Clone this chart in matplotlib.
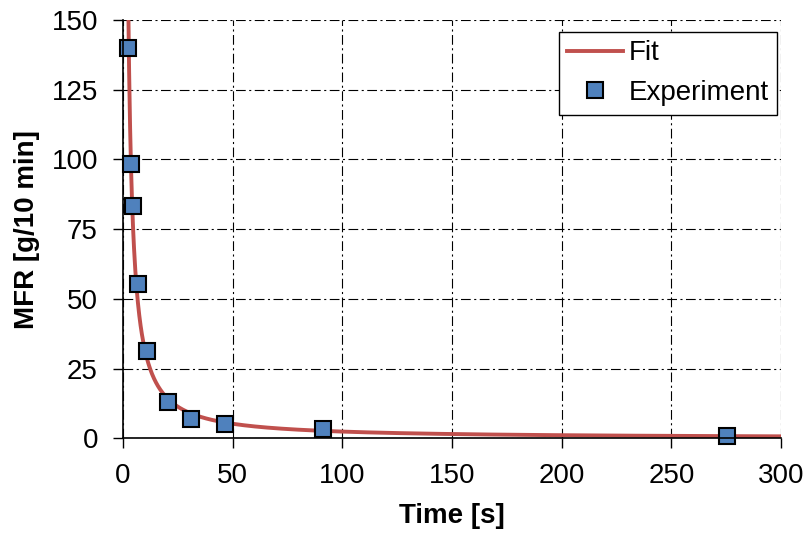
import numpy as np
import matplotlib
matplotlib.use("Agg")
import matplotlib.pyplot as plt

time_s = [2.5, 3.5, 4.6, 7.0, 10.9, 20.4, 30.9, 46.7, 91.2, 275.6]
mfr = [140.1, 98.3, 83.4, 55.3, 31.2, 13.1, 6.9, 5.0, 3.2, 0.8]

x_ticks = [0, 50, 100, 150, 200, 250, 300]
y_ticks = [0, 25, 50, 75, 100, 125, 150]

# Power-law fit of the experimental data (log-log least squares)
b, ln_a = np.polyfit(np.log(time_s), np.log(mfr), 1)
t_fit = np.linspace(1.0, 300, 2000)
mfr_fit = np.exp(ln_a) * t_fit ** b

plt.rcParams['font.family'] = ['Liberation Sans', 'DejaVu Sans']
plt.rcParams['lines.scale_dashes'] = False

fig = plt.figure(figsize=(8.08, 5.33), dpi=100)
ax = fig.add_axes([0.1522, 0.1777, 0.8144, 0.7848])

ax.plot(t_fit, mfr_fit, color='#C0504D', lw=2.8, label='Fit', zorder=3)
ax.plot(time_s, mfr, 's', ms=11.5, mfc='#4F81BD', mec='black', mew=1.5,
        label='Experiment', zorder=4, clip_on=False)

ax.set_xlim(0, 300)
ax.set_ylim(0, 150)
ax.set_xticks(x_ticks)
ax.set_yticks(y_ticks)
ax.tick_params(axis='both', direction='out', length=7, width=1,
               labelsize=20, colors='black')
ax.tick_params(axis='y', pad=11)
ax.tick_params(axis='x', pad=11)
ax.grid(True, color='black', lw=0.8, linestyle=(0, (7, 2.5, 1.5, 2.5)))
ax.set_axisbelow(True)
for s in ['top', 'right']:
    ax.spines[s].set_visible(False)
for s in ['left', 'bottom']:
    ax.spines[s].set_linewidth(1.2)
    ax.spines[s].set_zorder(5)

ax.set_xlabel('Time [s]', fontsize=20, fontweight='bold', labelpad=10)
ax.set_ylabel('MFR [g/10 min]', fontsize=20, fontweight='bold', labelpad=8)

leg = ax.legend(loc='upper right', fontsize=20, frameon=True, fancybox=False,
                edgecolor='black', framealpha=1, handlelength=2.0,
                bbox_to_anchor=(777 / 808, 1 - 32 / 533),
                bbox_transform=fig.transFigure, borderaxespad=0,
                labelspacing=0.5, handletextpad=0.2, borderpad=0.3)
leg.get_frame().set_linewidth(1.0)

fig.savefig('out.png', dpi=100)
